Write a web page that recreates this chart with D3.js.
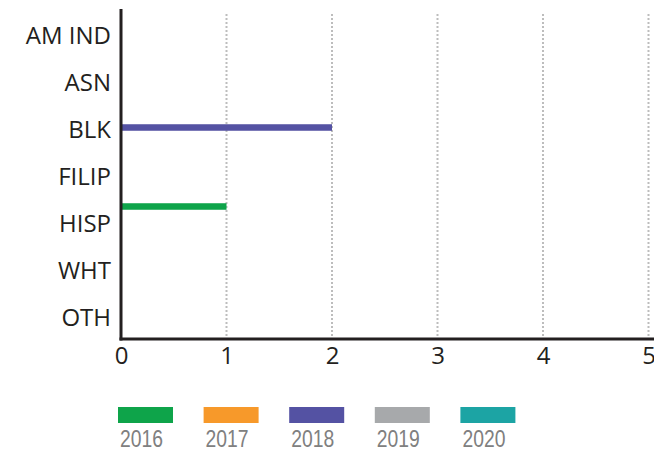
<!DOCTYPE html>
<html><head><meta charset="utf-8">
<script src="https://cdn.jsdelivr.net/npm/d3@7/dist/d3.min.js"></script>
<style>
html,body{margin:0;padding:0;background:#fff;}
svg{display:block;}
</style></head>
<body><svg id="c" width="654" height="452"></svg>
<script>
const categories = ["AM IND","ASN","BLK","FILIP","HISP","WHT","OTH"];
const years = ["2016","2017","2018","2019","2020"];
const colors = ["#0ea44a","#f7992a","#5452a3","#a7a9ab","#1ca4a4"];
const values2016 = [0,0,0,0,1,0,0];
const values2017 = [0,0,0,0,0,0,0];
const values2018 = [0,0,2,0,0,0,0];
const values2019 = [0,0,0,0,0,0,0];
const values2020 = [0,0,0,0,0,0,0];
const xTicks = [0,1,2,3,4,5];
const series = [values2016,values2017,values2018,values2019,values2020];

const svg = d3.select("#c");
const dark = "#231f20";
const x = d3.scaleLinear().domain([0,5]).range([121,648.5]);
const y = d3.scaleBand().domain(categories).range([10,339]).padding(0);
const inner = d3.scaleBand().domain(years).range([-18.75,18.75]).paddingInner(0.13).paddingOuter(0.065);

// gridlines
svg.append("g").selectAll("line").data(xTicks.filter(d=>d>0)).join("line")
  .attr("x1",d=>x(d)).attr("x2",d=>x(d)).attr("y1",14).attr("y2",338)
  .attr("stroke","#bdbdbd").attr("stroke-width",2).attr("stroke-dasharray","2,2");

// bars
const data = [];
series.forEach((vals,si)=>vals.forEach((v,ci)=>{ if(v>0) data.push({c:categories[ci],s:years[si],v,color:colors[si]}); }));
svg.append("g").selectAll("rect").data(data).join("rect")
  .attr("x",x(0)).attr("width",d=>x(d.v)-x(0))
  .attr("y",d=>y(d.c)+y.bandwidth()/2+inner(d.s))
  .attr("height",inner.bandwidth())
  .attr("fill",d=>d.color);

// axes lines
svg.append("line").attr("x1",121).attr("x2",121).attr("y1",9).attr("y2",340.5).attr("stroke",dark).attr("stroke-width",3);
svg.append("line").attr("x1",119.5).attr("x2",654).attr("y1",339).attr("y2",339).attr("stroke",dark).attr("stroke-width",3);

// category labels
const yAxis = svg.append("g").attr("transform","translate(121,0)")
  .call(d3.axisLeft(y).tickSize(0).tickPadding(10));
yAxis.select(".domain").remove();
yAxis.selectAll("text").attr("font-family","'Open Sans'").attr("font-size",24).attr("fill",dark)
  .attr("dy",null).attr("dominant-baseline","central").attr("y",1);

// x tick labels
const xAxis = svg.append("g").attr("transform","translate(0,339)")
  .call(d3.axisBottom(x).tickValues(xTicks).tickSize(0).tickPadding(0).tickFormat(d3.format("d")));
xAxis.select(".domain").remove();
xAxis.selectAll("text").attr("font-family","'Open Sans'").attr("font-size",24).attr("fill",dark)
  .attr("dy",null).attr("y",25);

// legend
const lg = svg.append("g").selectAll("g").data(years).join("g")
  .attr("transform",(d,i)=>`translate(${118+i*85.6},407)`);
lg.append("rect").attr("width",55).attr("height",16).attr("fill",(d,i)=>colors[i]);
lg.append("text").attr("x",2).attr("y",40).text(d=>d)
  .attr("font-family","'Liberation Sans'").attr("font-size",23).attr("fill","#808080")
  .attr("textLength",43).attr("lengthAdjust","spacingAndGlyphs");
</script></body></html>
